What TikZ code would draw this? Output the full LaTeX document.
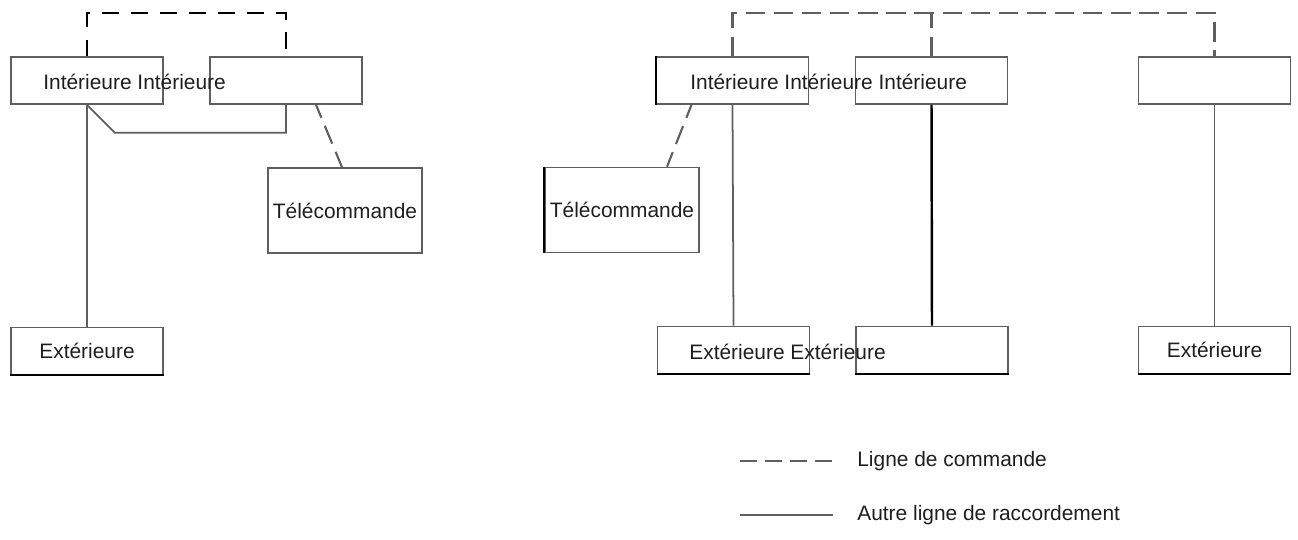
\documentclass[tikz,border=0pt]{standalone}
\usepackage{fontspec}
\setmainfont{Liberation Sans}
\usetikzlibrary{calc}
\definecolor{ln}{RGB}{95,95,95}
\definecolor{txt}{RGB}{30,30,30}
\tikzset{
  unit/.style={rectangle, draw=ln, line width=0.9pt, minimum width=3.04cm,
               minimum height=0.94cm, inner sep=0pt, text=txt},
  remote/.style={unit, minimum width=3.08cm, minimum height=1.7cm},
  % bord inferieur / gauche plus fonce
  botk/.style={append after command={(\tikzlastnode.south west) edge[draw=black, line width=1.2pt] (\tikzlastnode.south east)}},
  leftk/.style={append after command={(\tikzlastnode.south west) edge[draw=black, line width=1.2pt] (\tikzlastnode.north west)}},
  lbl/.style={inner sep=0pt, text=txt},
  cmd/.style={draw=ln, line width=1.2pt, dash pattern=on 11pt off 5pt},
  cmdk/.style={draw=black, line width=1.4pt, dash pattern=on 9.5pt off 7pt},
  wire/.style={draw=ln, line width=1pt},
  wirek/.style={draw=black, line width=1.4pt}
}

\begin{document}
\begin{tikzpicture}[x=0.02cm, y=-0.02cm, every node/.style={font=\fontsize{11.9}{14}\selectfont}]
  \useasboundingbox (0,0) rectangle (1298,540);

  % installation de gauche
  \node[unit] (iA) at (87,80.5) {};
  \node[unit] (iB) at (286,80.5) {};
  \node[remote] (t1) at (345,210.5) {Télécommande};
  \node[unit, botk] (x1) at (87,351) {Extérieure};
  \node[lbl, anchor=base west] (lA) at (43,90) {Intérieure Intérieure};

  \draw[cmdk] (iA.north) -- ++(0,-43) -| (iB.north);
  \draw[wire] (iA.south) -- ++(28,28) -| (iB.south);
  \draw[wire] (iA.south) -- (x1.north);
  \draw[cmd, dash phase=3pt] ($(iB.south)+(30,0)$) -- ($(t1.north)+(-3,0)$);

  % installation de droite
  \node[unit, leftk] (iC) at (732.5,80.5) {};
  \node[unit] (iD) at (931.5,80.5) {};
  \node[unit] (iE) at (1214.5,80.5) {};
  \node[remote, leftk] (t2) at (622,210) {Télécommande};
  \node[unit, botk] (xC) at (733.5,350) {};
  \node[unit, botk] (xD) at (932,350) {};
  \node[unit, botk] (xE) at (1214.5,350) {Extérieure};
  \node[lbl, anchor=base west] (lC) at (690,90) {Intérieure Intérieure Intérieure};
  \node[lbl, anchor=base west] (lX) at (689,359) {Extérieure Extérieure};

  \draw[cmd] (iC.north) -- ++(0,-43) -| (iE.north);
  \draw[cmd] (iD.north) -- ++(0,-43);
  \draw[wire] (iC.south) -- (xC.north);
  \draw[wirek] (iD.south) -- (xD.north);
  \draw[wire] (iE.south) -- (xE.north);
  \draw[cmd, dash phase=3pt] ($(iC.south)+(-41,0)$) -- ($(t2.north)+(45,0)$);

  % legende
  \node[lbl, anchor=west] (lg1) at (857,461) {Ligne de commande};
  \node[lbl, anchor=west] (lg2) at (857,515) {Autre ligne de raccordement};
  \coordinate (c1) at (740,461);
  \coordinate (c2) at (740,515);
  \draw[cmd, dash pattern=on 9.6pt off 4.6pt] (c1) -- ($(lg1.west)+(-24,0)$);
  \draw[wire] (c2) -- ($(lg2.west)+(-24,0)$);
\end{tikzpicture}
\end{document}
